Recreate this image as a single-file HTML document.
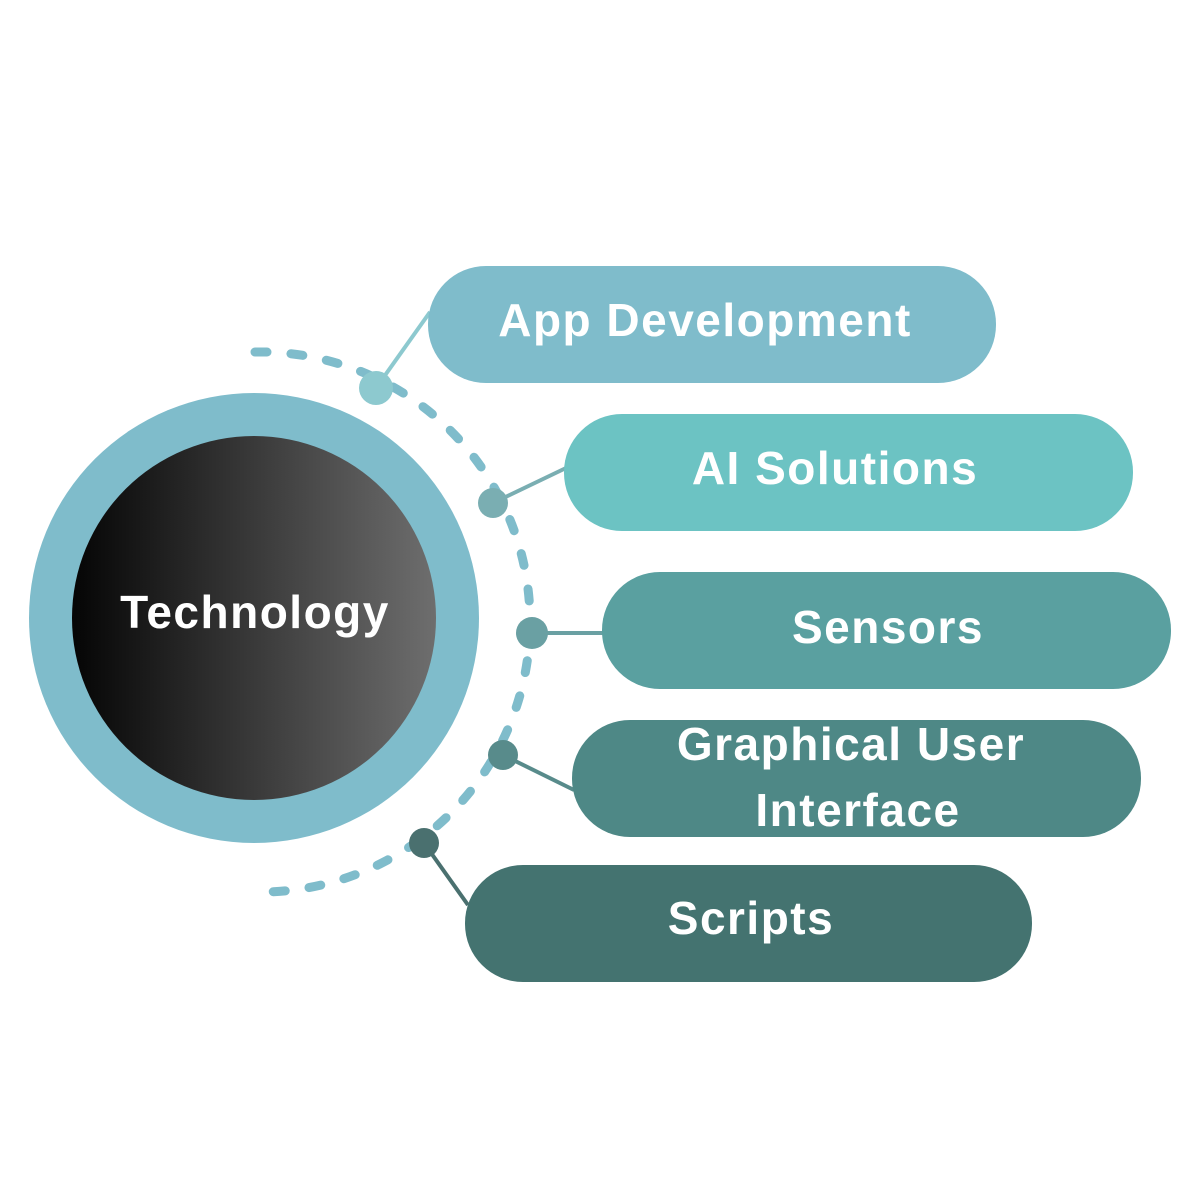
<!DOCTYPE html>
<html><head><style>
body{margin:0;background:#fff;}
svg{display:block;}
text{font-family:"Liberation Sans",sans-serif;font-weight:bold;fill:#fff;text-anchor:middle;letter-spacing:1.5px;}
</style></head><body>
<svg width="1200" height="1200" viewBox="0 0 1200 1200">
<defs>
<linearGradient id="g" x1="0" x2="1" y1="0" y2="0">
<stop offset="0" stop-color="#050505"/><stop offset="1" stop-color="#6e6e6e"/>
</linearGradient>
</defs>
<path d="M255 352 A270 270 0 0 1 265 892" fill="none" stroke="#7fbccb" stroke-width="9" stroke-linecap="round" stroke-dasharray="12 24"/>
<circle cx="254" cy="618" r="225" fill="#7fbccb"/>
<circle cx="254" cy="618" r="182" fill="url(#g)"/>
<text x="255" y="628" font-size="46">Technology</text>
<g stroke-width="4">
<line x1="376" y1="388" x2="430" y2="312" stroke="#8dc9cf"/>
<line x1="493" y1="503" x2="566" y2="468" stroke="#7aaeb2"/>
<line x1="532" y1="633" x2="604" y2="633" stroke="#6aa0a3"/>
<line x1="503" y1="755" x2="574" y2="790" stroke="#588b8b"/>
<line x1="424" y1="843" x2="468" y2="905" stroke="#4a706f"/>
</g>
<circle cx="376" cy="388" r="17" fill="#8dc9cf"/>
<circle cx="493" cy="503" r="15" fill="#7aaeb2"/>
<circle cx="532" cy="633" r="16" fill="#6aa0a3"/>
<circle cx="503" cy="755" r="15" fill="#588b8b"/>
<circle cx="424" cy="843" r="15" fill="#4a706f"/>
<rect x="428" y="266" width="568" height="117" rx="58" fill="#7fbccb"/>
<rect x="564" y="414" width="569" height="117" rx="58" fill="#6cc3c3"/>
<rect x="602" y="572" width="569" height="117" rx="58" fill="#5aa0a0"/>
<rect x="572" y="720" width="569" height="117" rx="58" fill="#4e8886"/>
<rect x="465" y="865" width="567" height="117" rx="58" fill="#447370"/>
<text x="705" y="336" font-size="46">App Development</text>
<text x="835" y="484" font-size="46">AI Solutions</text>
<text x="888" y="643" font-size="46">Sensors</text>
<text x="851" y="760" font-size="46">Graphical User</text>
<text x="858" y="826" font-size="46">Interface</text>
<text x="751" y="934" font-size="46">Scripts</text>
</svg>
</body></html>
